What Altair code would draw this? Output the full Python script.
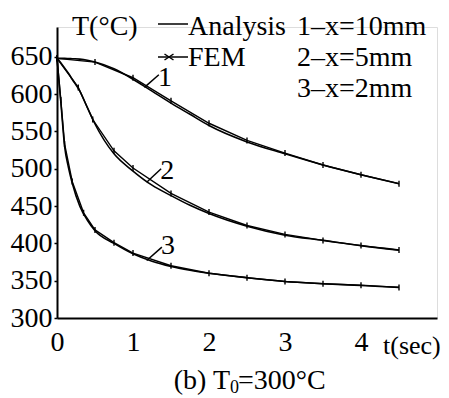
import altair as alt
import pandas as pd

FONT = "'Liberation Serif', 'Times New Roman', Times, serif"

# ---- data ----
t_analysis = [0, 0.05, 0.1, 0.15, 0.2, 0.3, 0.4, 0.5, 0.75, 1.0, 1.25, 1.5, 1.75, 2.0, 2.5, 3.0, 3.5, 4.0, 4.5]
analysis_1 = [648, 648, 648, 647.8, 647.5, 647, 645.5, 643, 634, 620, 604, 588, 573, 558, 536, 520, 505, 492, 480]
analysis_2 = [648, 642, 635, 628, 620, 604, 582, 560, 520, 497, 478, 464, 451, 440, 423, 411, 404, 397, 391]
analysis_3 = [648, 590, 530, 502, 481, 450, 431, 417, 400, 386, 376, 369, 364, 360, 354, 349, 346, 343.5, 341]

fem_t_1 = [0, 0.5, 1.0, 1.5, 2.0, 2.5, 3.0, 3.5, 4.0, 4.5]
fem_1 = [648, 643, 622, 591, 561, 538, 521, 505, 492, 480]
fem_t_2 = [0, 0.28, 0.47, 0.75, 1.0, 1.5, 2.0, 2.5, 3.0, 3.5, 4.0, 4.5]
fem_2 = [648, 609, 566, 524, 501, 467, 442, 424, 412, 404, 397, 391]
fem_t_3 = [0, 0.05, 0.1, 0.2, 0.35, 0.5, 0.75, 1.0, 1.5, 2.0, 2.5, 3.0, 3.5, 4.0, 4.5]
fem_3 = [648, 592, 533, 483, 441, 418, 401, 387, 370, 360, 354, 349, 346, 344, 341]

x_ticks = [0, 1, 2, 3, 4]
y_ticks = [300, 350, 400, 450, 500, 550, 600, 650]

curve_ids = ["1", "2", "3"]
label_t = [1.42, 1.45, 1.46]
label_T = [622, 497, 396]
leader_t0 = [1.15, 1.18, 1.18]
leader_T0 = [609, 482, 377]
leader_t1 = [1.34, 1.37, 1.38]
leader_T1 = [626, 500, 395]

# ---- tables ----
rows = []
for cid, vals in zip(curve_ids, [analysis_1, analysis_2, analysis_3]):
    for t, v in zip(t_analysis, vals):
        rows.append({"curve": cid, "t": t, "T": v})
df_an = pd.DataFrame(rows)

rows = []
for cid, ts, vals in zip(curve_ids, [fem_t_1, fem_t_2, fem_t_3], [fem_1, fem_2, fem_3]):
    for t, v in zip(ts, vals):
        rows.append({"curve": cid, "t": t, "T": v})
df_fem = pd.DataFrame(rows)

df_lab = pd.DataFrame({"curve": curve_ids, "t": label_t, "T": label_T})
rows = []
for cid, a, b, c, d in zip(curve_ids, leader_t0, leader_T0, leader_t1, leader_T1):
    rows.append({"curve": cid, "t": a, "T": b, "t2": c, "T2": d})
df_lead = pd.DataFrame(rows)

X = alt.X("t:Q", scale=alt.Scale(domain=[0, 5], nice=False, zero=False),
          axis=alt.Axis(values=x_ticks, format="d", title=None, grid=False,
                        labelFont=FONT, labelFontSize=28, labelColor="black",
                        domainColor="black", domainWidth=2, ticks=False,
                        labelPadding=10, labelFlush=False, labelOverlap=False))
Y = alt.Y("T:Q", scale=alt.Scale(domain=[300, 690], nice=False, zero=False),
          axis=alt.Axis(values=y_ticks, format="d", title=None, grid=False,
                        labelFont=FONT, labelFontSize=28, labelColor="black",
                        domainColor="black", domainWidth=2, tickSize=3,
                        tickColor="black", tickWidth=1.5, labelPadding=2,
                        labelFlush=False, labelOverlap=False))

analysis = alt.Chart(df_an).mark_line(color="black", strokeWidth=1.6, interpolate="monotone").encode(
    x=X, y=Y, detail="curve:N")
fem_line = alt.Chart(df_fem).mark_line(color="black", strokeWidth=1.4).encode(
    x=X, y=Y, detail="curve:N")
fem_pts = alt.Chart(df_fem).mark_point(shape="M0,-1L0,1", size=36, color="black",
                                       strokeWidth=1.4, filled=False, opacity=1).encode(x=X, y=Y)
leaders = alt.Chart(df_lead).mark_rule(color="black", strokeWidth=1.5).encode(
    x=X, y=Y, x2="t2:Q", y2="T2:Q")
labels = alt.Chart(df_lab).mark_text(font=FONT, fontSize=28, color="black",
                                     baseline="middle", align="center").encode(x=X, y=Y, text="curve:N")

one = pd.DataFrame({"a": [0]})


def txt(s, x, y, size=28, align="left", baseline="alphabetic"):
    return alt.Chart(one).mark_text(font=FONT, fontSize=size, color="black",
                                    align=align, baseline=baseline).encode(
        x=alt.value(x), y=alt.value(y), text=alt.value(s))


annots = [
    txt("T(°C)", 15, 8),
    txt("Analysis", 131, 8),
    txt("FEM", 131, 39),
    txt("1–x=10mm", 240, 8),
    txt("2–x=5mm", 240, 39),
    txt("3–x=2mm", 240, 70),
    txt("t(sec)", 326, 327, size=26),
    txt("(b)  T", 173, 362, align="right"),
    txt("0", 173, 366, size=18),
    txt("=300°C", 181, 362),
]
leg_line1 = alt.Chart(one).mark_rule(color="black", strokeWidth=1.5).encode(
    x=alt.value(101), x2=alt.value(131), y=alt.value(-3))
leg_line2 = alt.Chart(one).mark_rule(color="black", strokeWidth=1.5).encode(
    x=alt.value(101), x2=alt.value(131), y=alt.value(30))
leg_cross = alt.Chart(one).mark_point(shape="M-1.5,-1L1.5,1M-1.5,1L1.5,-1", size=36,
                                      color="black", strokeWidth=1.5, filled=False, opacity=1).encode(
    x=alt.value(112), y=alt.value(30))

chart = alt.layer(analysis, fem_line, fem_pts, leaders, labels, leg_line1, leg_line2, leg_cross, *annots).properties(
    width=380, height=291,
    autosize=alt.AutoSizeParams(type="none"),
    padding={"left": 49, "top": 19, "right": 4, "bottom": 79},
).configure_view(stroke=None).configure(background="white")

chart.save("out.html", embed_options={"renderer": "svg", "actions": False})
